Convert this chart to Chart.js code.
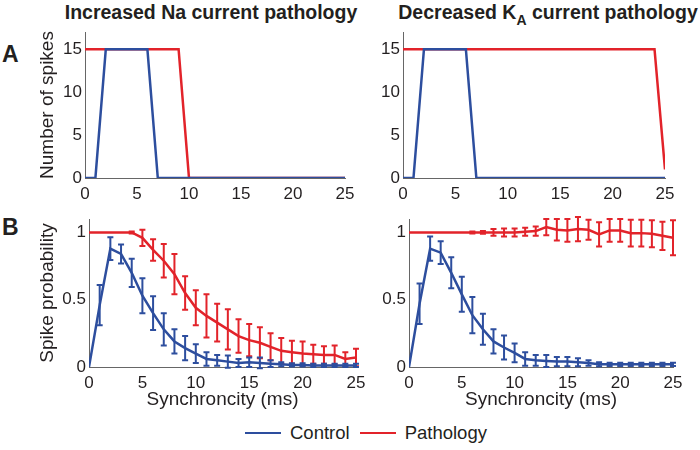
<!DOCTYPE html>
<html>
<head>
<meta charset="utf-8">
<script src="https://cdn.jsdelivr.net/npm/chart.js@4.4.1/dist/chart.umd.min.js"></script>
<style>
  body { margin: 0; background: #fff; font-family: "Liberation Sans", Arial, sans-serif; color: #231f20; }
  #page { position: relative; width: 700px; height: 450px; overflow: hidden; }
  canvas { position: absolute; }
  .title { position: absolute; top: 1px; font-weight: bold; font-size: 19.5px; white-space: nowrap; transform: translateX(-50%); }
  .title sub { font-size: 14px; vertical-align: -6px; }
  .letter { position: absolute; left: 2px; font-weight: bold; font-size: 23px; }
  #legend { position: absolute; left: 245px; top: 422px; display: flex; align-items: center; font-size: 18.5px; }
  #legend span.sw { display: inline-block; width: 36px; height: 2px; margin-right: 9px; }
  #legend span.lab { margin-right: 10px; }
</style>
</head>
<body>
<div id="page">
  <div class="title" style="left:211px">Increased Na current pathology</div>
  <div class="title" style="left:548px">Decreased K<sub>A</sub> current pathology</div>
  <div class="letter" style="top:41px">A</div>
  <div class="letter" style="top:214px">B</div>

  <canvas id="naSpikes" width="325" height="176" style="left:30px;top:24px"></canvas>
  <canvas id="kaSpikes" width="307" height="176" style="left:368px;top:24px"></canvas>
  <canvas id="naProb" width="336" height="202" style="left:30px;top:210px"></canvas>
  <canvas id="kaProb" width="312" height="202" style="left:372px;top:210px"></canvas>

  <div id="legend">
    <span class="sw" style="background:#2d4e9e"></span><span class="lab">Control</span>
    <span class="sw" style="background:#e2232a"></span><span class="lab">Pathology</span>
  </div>
</div>

<script>
const synchronicity = [0, 1, 2, 3, 4, 5, 6, 7, 8, 9, 10, 11, 12, 13, 14, 15, 16, 17, 18, 19, 20, 21, 22, 23, 24, 25];
const xTicks = [0, 5, 10, 15, 20, 25];
const spikeTicks = [0, 5, 10, 15];
const probTicks = [0, 0.5, 1];

// A: number of spikes
const naSpikesControl = [0, 0, 15, 15, 15, 15, 15, 0, 0, 0, 0, 0, 0, 0, 0, 0, 0, 0, 0, 0, 0, 0, 0, 0, 0, 0];
const naSpikesPathology = [15, 15, 15, 15, 15, 15, 15, 15, 15, 15, 0, 0, 0, 0, 0, 0, 0, 0, 0, 0, 0, 0, 0, 0, 0, 0];
const kaSpikesControl = [0, 0, 15, 15, 15, 15, 15, 0, 0, 0, 0, 0, 0, 0, 0, 0, 0, 0, 0, 0, 0, 0, 0, 0, 0, 0];
const kaSpikesPathology = [15, 15, 15, 15, 15, 15, 15, 15, 15, 15, 15, 15, 15, 15, 15, 15, 15, 15, 15, 15, 15, 15, 15, 15, 15, 1];

// B: spike probability (mean and error)
const naProbControl = [0, 0.46, 0.88, 0.84, 0.70, 0.53, 0.40, 0.28, 0.19, 0.14, 0.10, 0.06, 0.05, 0.04, 0.03, 0.035, 0.03, 0.025, 0.02, 0.015, 0.015, 0.012, 0.012, 0.012, 0.012, 0.012];
const naProbControlErr = [0, 0.15, 0.085, 0.07, 0.105, 0.13, 0.125, 0.12, 0.09, 0.09, 0.07, 0.05, 0.04, 0.045, 0.03, 0.035, 0.04, 0.025, 0.015, 0.012, 0.012, 0.012, 0.012, 0.012, 0.012, 0.012];
const naProbPathology = [1, 1, 1, 1, 1, 0.96, 0.87, 0.79, 0.69, 0.55, 0.44, 0.38, 0.33, 0.28, 0.23, 0.20, 0.18, 0.15, 0.12, 0.11, 0.10, 0.095, 0.09, 0.09, 0.06, 0.07];
const naProbPathologyErr = [0, 0, 0, 0, 0.008, 0.06, 0.08, 0.125, 0.15, 0.125, 0.13, 0.16, 0.14, 0.15, 0.125, 0.12, 0.115, 0.1, 0.095, 0.085, 0.09, 0.07, 0.065, 0.07, 0.05, 0.065];
const kaProbControl = [0, 0.47, 0.88, 0.85, 0.70, 0.54, 0.385, 0.28, 0.19, 0.145, 0.105, 0.06, 0.05, 0.045, 0.04, 0.04, 0.035, 0.03, 0.02, 0.02, 0.02, 0.02, 0.02, 0.02, 0.02, 0.02];
const kaProbControlErr = [0, 0.15, 0.09, 0.085, 0.115, 0.13, 0.135, 0.115, 0.09, 0.09, 0.07, 0.05, 0.04, 0.045, 0.035, 0.035, 0.03, 0.02, 0.015, 0.012, 0.012, 0.012, 0.012, 0.012, 0.012, 0.012];
const kaProbPathology = [1, 1, 1, 1, 1, 1, 1, 1, 1, 1, 1, 1.005, 1.01, 1.04, 1.02, 1.015, 1.025, 1.02, 0.985, 1.015, 1.015, 0.995, 0.995, 0.99, 0.975, 0.96];
const kaProbPathologyErr = [0, 0, 0, 0, 0, 0, 0.008, 0.01, 0.025, 0.03, 0.03, 0.03, 0.035, 0.06, 0.08, 0.085, 0.09, 0.075, 0.09, 0.085, 0.085, 0.1, 0.1, 0.1, 0.105, 0.13];

const BLUE = '#2d4e9e';
const RED = '#e2232a';
const FONT = '"Liberation Sans", Arial, sans-serif';

// vertical error bars with caps, drawn right after each line
const errorBars = {
  id: 'errorBars',
  afterDatasetDraw(chart, args) {
    const ds = chart.data.datasets[args.index];
    if (!ds.errors) return;
    const { ctx, scales: { x, y } } = chart;
    ctx.save();
    ctx.strokeStyle = ds.borderColor;
    ctx.lineWidth = 2;
    ds.data.forEach((p, j) => {
      const e = ds.errors[j];
      if (!e) return;
      const px = x.getPixelForValue(p.x);
      const top = y.getPixelForValue(p.y + e);
      const bot = y.getPixelForValue(p.y - e);
      ctx.beginPath();
      ctx.moveTo(px, top); ctx.lineTo(px, bot);
      ctx.moveTo(px - 3, top); ctx.lineTo(px + 3, top);
      ctx.moveTo(px - 3, bot); ctx.lineTo(px + 3, bot);
      ctx.stroke();
    });
    ctx.restore();
  }
};

function series(values, color, errors) {
  return {
    data: values.map((v, i) => ({ x: synchronicity[i], y: v })),
    borderColor: color,
    borderWidth: 2.5,
    pointRadius: 0,
    tension: 0,
    errors: errors
  };
}

function makeChart(id, datasets, o) {
  new Chart(document.getElementById(id), {
    type: 'line',
    data: { datasets: datasets },
    plugins: [errorBars],
    options: {
      responsive: false,
      animation: false,
      layout: { padding: { top: o.padTop, right: o.padRight, left: 0, bottom: 0 } },
      plugins: { legend: { display: false }, tooltip: { enabled: false } },
      scales: {
        x: {
          type: 'linear', min: 0, max: 25,
          afterBuildTicks: s => { s.ticks = xTicks.map(v => ({ value: v })); },
          afterFit: s => { s.height = o.xHeight; s.paddingLeft = 0; s.paddingRight = 0; },
          grid: { display: false, drawTicks: false },
          border: { display: true, color: '#666', width: 1 },
          ticks: { font: { family: FONT, size: 17 }, color: '#231f20', padding: 6, maxRotation: 0, callback: v => String(v) },
          title: { display: !!o.xTitle, text: o.xTitle || '', font: { family: FONT, size: 19 }, color: '#231f20', padding: { top: 0, bottom: 1 } }
        },
        y: {
          type: 'linear', min: 0, max: o.yMax,
          afterBuildTicks: s => { s.ticks = o.yTicks.map(v => ({ value: v })); },
          afterFit: s => { s.width = o.yWidth; s.paddingTop = 0; s.paddingBottom = 0; },
          grid: { display: false, drawTicks: false },
          border: { display: true, color: '#666', width: 1 },
          ticks: { font: { family: FONT, size: 17 }, color: '#231f20', padding: 3, callback: v => String(v) },
          title: { display: !!o.yTitle, text: o.yTitle || '', font: { family: FONT, size: 19 }, color: '#231f20', padding: { top: 6, bottom: 0 } }
        }
      }
    }
  });
}

makeChart('naSpikes', [
  series(naSpikesControl, BLUE),
  series(naSpikesPathology, RED)
], { yMax: 17, yTicks: spikeTicks, yTitle: 'Number of spikes', yWidth: 55, xHeight: 22, padTop: 8, padRight: 10 });

makeChart('kaSpikes', [
  series(kaSpikesControl, BLUE),
  series(kaSpikesPathology, RED)
], { yMax: 17, yTicks: spikeTicks, yWidth: 35, xHeight: 22, padTop: 8, padRight: 10 });

makeChart('naProb', [
  series(naProbControl, BLUE, naProbControlErr),
  series(naProbPathology, RED, naProbPathologyErr)
], { yMax: 1.1, yTicks: probTicks, yTitle: 'Spike probability', xTitle: 'Synchroncity (ms)', yWidth: 59, xHeight: 45, padTop: 9, padRight: 10 });

makeChart('kaProb', [
  series(kaProbControl, BLUE, kaProbControlErr),
  series(kaProbPathology, RED, kaProbPathologyErr)
], { yMax: 1.1, yTicks: probTicks, xTitle: 'Synchroncity (ms)', yWidth: 37, xHeight: 45, padTop: 9, padRight: 11 });
</script>
</body>
</html>
